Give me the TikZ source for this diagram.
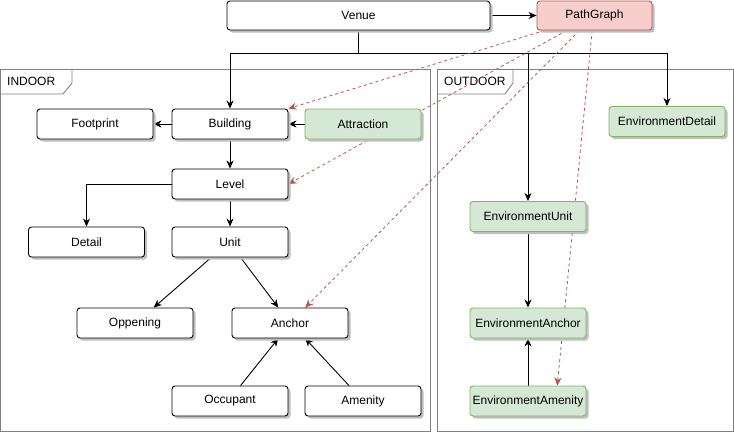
\documentclass[tikz,border=0pt]{standalone}
\usepackage{fontspec}
\setmainfont{Liberation Sans}
\usetikzlibrary{calc,arrows.meta,shadows,backgrounds}
\definecolor{gfill}{HTML}{D5E8D4}
\definecolor{gline}{HTML}{82B366}
\definecolor{rfill}{HTML}{F8CECC}
\definecolor{rline}{HTML}{B85450}
\definecolor{frameline}{HTML}{808080}
\tikzset{
  box/.style={draw=black, fill=white, rounded corners=3pt, line width=0.9pt,
    minimum width=116pt, minimum height=30pt, inner sep=0pt,
    font=\fontsize{12}{14}\selectfont,
    drop shadow={shadow xshift=2.5pt, shadow yshift=-2.5pt, fill=black!25, opacity=1}},
  gbox/.style={box, draw=gline, fill=gfill},
  rbox/.style={box, draw=rline, fill=rfill},
  conn/.style={line width=0.9pt, -{Stealth[length=8pt,width=7pt,inset=2.5pt]}},
  dconn/.style={line width=0.8pt, draw=rline, dash pattern=on 3pt off 3pt,
    -{Stealth[length=8pt,width=7pt,inset=2.5pt]}},
  frame/.style={draw=frameline, line width=0.9pt},
  tablabel/.style={anchor=west, inner sep=0pt, font=\fontsize{12}{14}\selectfont}
}
\begin{document}
\begin{tikzpicture}[x=1pt,y=-1pt]
\useasboundingbox (0,0) rectangle (734,432);
% nodes
\node[box, minimum width=263pt, minimum height=29pt] (venue) at (358.5,15.5) {Venue};
\node[rbox, minimum width=115pt, minimum height=29pt] (pg) at (594.5,15.5) {PathGraph};
\node[box] (footprint) at (95,124) {Footprint};
\node[box] (building) at (230,124) {Building};
\node[gbox] (attraction) at (363,124) {Attraction};
\node[box] (level) at (230,184) {Level};
\node[box] (detail) at (86.5,242) {Detail};
\node[box] (unit) at (230,242) {Unit};
\node[box] (oppening) at (135,323) {Oppening};
\node[box] (anchor) at (290,323) {Anchor};
\node[box] (occupant) at (230,401) {Occupant};
\node[box] (amenity) at (363,401) {Amenity};
\node[gbox] (envdetail) at (667,121.5) {EnvironmentDetail};
\node[gbox] (envunit) at (528,216.5) {EnvironmentUnit};
\node[gbox] (envanchor) at (528,323) {EnvironmentAnchor};
\node[gbox] (envamenity) at (528,401) {EnvironmentAmenity};
\coordinate (j) at (358.5,53);
\begin{scope}[on background layer]
  % frames
  \draw[frame] (0,69) rectangle (430,431);
  \draw[frame] (0,94) -- (63,94) -- (72,83) -- (72,69);
  \node[tablabel] (indoorlbl) at (7,81) {INDOOR};
  \draw[frame] (437,69) rectangle (733,431);
  \draw[frame] (437,94) -- (505,94) -- (513,83) -- (513,69);
  \node[tablabel] (outdoorlbl) at (444,81) {OUTDOOR};
  % solid connectors
  \draw[conn] (venue) -- (pg);
  \draw[line width=0.9pt] (venue.south) -- (j);
  \draw[conn] (j) -| (building.north);
  \draw[conn] (j) -| (envunit.north);
  \draw[conn] (j) -| (envdetail.north);
  \draw[conn] (building) -- (footprint);
  \draw[conn] (attraction) -- (building);
  \draw[conn] (building) -- (level);
  \draw[conn] (level.west) -| (detail.north);
  \draw[conn] (level) -- (unit);
  \draw[conn] ($(unit.south west)!0.34!(unit.south east)$) -- ($(oppening.north west)!0.66!(oppening.north east)$);
  \draw[conn] ($(unit.south west)!0.59!(unit.south east)$) -- ($(anchor.north west)!0.40!(anchor.north east)$);
  \draw[conn] ($(occupant.north west)!0.59!(occupant.north east)$) -- ($(anchor.south west)!0.40!(anchor.south east)$);
  \draw[conn] ($(amenity.north west)!0.38!(amenity.north east)$) -- ($(anchor.south west)!0.63!(anchor.south east)$);
  \draw[conn] (envunit) -- (envanchor);
  \draw[conn] (envamenity) -- (envanchor);
  % dashed connectors
  \draw[dconn] ($(pg.south west)!0.07!(pg.south east)$) -- (building.north east);
  \draw[dconn] ($(pg.south west)!0.26!(pg.south east)$) -- (level.east);
  \draw[dconn] ($(pg.south west)!0.37!(pg.south east)$) -- ($(anchor.north west)!0.63!(anchor.north east)$);
  \draw[dconn] ($(pg.south west)!0.48!(pg.south east)$) -- ($(envamenity.north west)!0.75!(envamenity.north east)$);
\end{scope}
\end{tikzpicture}
\end{document}
